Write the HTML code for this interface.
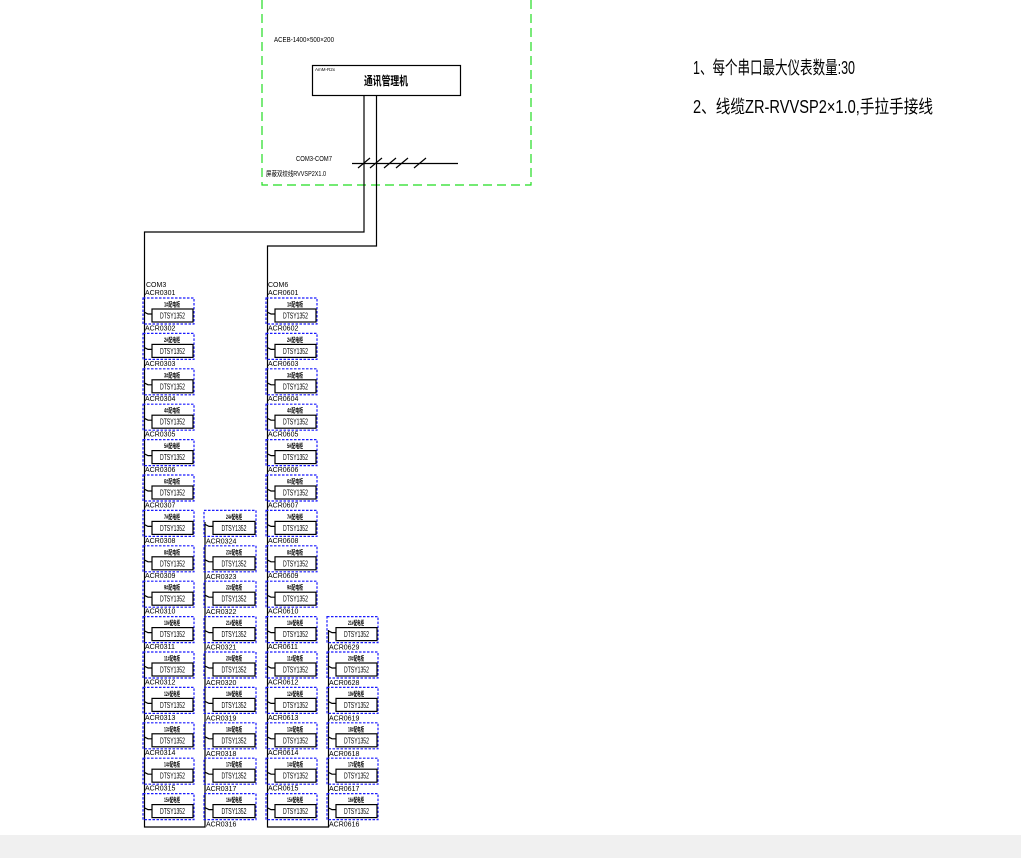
<!DOCTYPE html>
<html><head><meta charset="utf-8"><style>
html,body{margin:0;padding:0;background:#fff;width:1021px;height:858px;overflow:hidden}
svg{display:block}
text{font-family:"Liberation Sans","Noto Sans CJK SC",sans-serif;fill:#000}
.l{font-size:7px}
.t{font-size:6.5px;text-anchor:middle;font-weight:bold}
.d{font-size:8px;text-anchor:middle}
.db{fill:none;stroke:#1a1aff;stroke-width:1.2;stroke-dasharray:2.5,1.5}
.ib{fill:#fff;stroke:#000;stroke-width:1.2}
.w{fill:none;stroke:#000;stroke-width:1.2}
</style></head><body>
<svg width="1021" height="858" viewBox="0 0 1021 858" xmlns="http://www.w3.org/2000/svg">
<rect x="0" y="835" width="1021" height="23" fill="#f0f0f0"/>
<path d="M262,0 V185 H531 V0" fill="none" stroke="#22dd22" stroke-width="1.2" stroke-dasharray="9,5"/>
<text x="274" y="42" style="font-size:7px" textLength="60" lengthAdjust="spacingAndGlyphs">ACEB-1400×500×200</text>
<rect x="312.5" y="65.5" width="148" height="30" class="w"/>
<text x="315" y="71" style="font-size:4.5px">AmM-R2x</text>
<text x="386" y="85" style="font-size:12px;text-anchor:middle;font-weight:bold" textLength="44" lengthAdjust="spacingAndGlyphs">通讯管理机</text>
<text x="296" y="161" style="font-size:7.5px" textLength="36" lengthAdjust="spacingAndGlyphs">COM3-COM7</text>
<text x="266" y="176" style="font-size:7px" textLength="60" lengthAdjust="spacingAndGlyphs">屏蔽双绞线RVVSP2X1.0</text>
<path d="M352,163.5 H458" class="w"/>
<path d="M358,168 L370,158 M370,168 L382,158 M384,168 L396,158 M396,168 L408,158 M414,168 L426,158" class="w"/>
<path d="M364,95 V232 H144.5 V827 H205 V522" class="w"/>
<path d="M376.5,95 V246 H267.5 V827 H328.5 V630" class="w"/>
<text x="146" y="287" class="l">COM3</text>
<text x="268" y="287" class="l">COM6</text>
<text x="693" y="74" style="font-size:18px" textLength="162" lengthAdjust="spacingAndGlyphs">1、每个串口最大仪表数量:30</text>
<text x="693" y="113" style="font-size:18px" textLength="240" lengthAdjust="spacingAndGlyphs">2、线缆ZR-RVVSP2×1.0,手拉手接线</text>

<!-- Column A -->
<g transform="translate(143,298)"><text x="2" y="-3" class="l">ACR0301</text><rect class="db" x="0" y="0" width="51" height="26"/><text x="29" y="8.5" class="t" textLength="16" lengthAdjust="spacingAndGlyphs">1#配电柜</text><rect class="ib" x="9" y="11" width="41" height="13"/><text x="29.5" y="20.5" class="d" textLength="25" lengthAdjust="spacingAndGlyphs">DTSY1352</text><path class="w" d="M1,14 L5,16 H9"/></g>
<g transform="translate(143,333.4)"><text x="2" y="-3" class="l">ACR0302</text><rect class="db" x="0" y="0" width="51" height="26"/><text x="29" y="8.5" class="t" textLength="16" lengthAdjust="spacingAndGlyphs">2#配电柜</text><rect class="ib" x="9" y="11" width="41" height="13"/><text x="29.5" y="20.5" class="d" textLength="25" lengthAdjust="spacingAndGlyphs">DTSY1352</text><path class="w" d="M1,14 L5,16 H9"/></g>
<g transform="translate(143,368.8)"><text x="2" y="-3" class="l">ACR0303</text><rect class="db" x="0" y="0" width="51" height="26"/><text x="29" y="8.5" class="t" textLength="16" lengthAdjust="spacingAndGlyphs">3#配电柜</text><rect class="ib" x="9" y="11" width="41" height="13"/><text x="29.5" y="20.5" class="d" textLength="25" lengthAdjust="spacingAndGlyphs">DTSY1352</text><path class="w" d="M1,14 L5,16 H9"/></g>
<g transform="translate(143,404.2)"><text x="2" y="-3" class="l">ACR0304</text><rect class="db" x="0" y="0" width="51" height="26"/><text x="29" y="8.5" class="t" textLength="16" lengthAdjust="spacingAndGlyphs">4#配电柜</text><rect class="ib" x="9" y="11" width="41" height="13"/><text x="29.5" y="20.5" class="d" textLength="25" lengthAdjust="spacingAndGlyphs">DTSY1352</text><path class="w" d="M1,14 L5,16 H9"/></g>
<g transform="translate(143,439.6)"><text x="2" y="-3" class="l">ACR0305</text><rect class="db" x="0" y="0" width="51" height="26"/><text x="29" y="8.5" class="t" textLength="16" lengthAdjust="spacingAndGlyphs">5#配电柜</text><rect class="ib" x="9" y="11" width="41" height="13"/><text x="29.5" y="20.5" class="d" textLength="25" lengthAdjust="spacingAndGlyphs">DTSY1352</text><path class="w" d="M1,14 L5,16 H9"/></g>
<g transform="translate(143,475)"><text x="2" y="-3" class="l">ACR0306</text><rect class="db" x="0" y="0" width="51" height="26"/><text x="29" y="8.5" class="t" textLength="16" lengthAdjust="spacingAndGlyphs">6#配电柜</text><rect class="ib" x="9" y="11" width="41" height="13"/><text x="29.5" y="20.5" class="d" textLength="25" lengthAdjust="spacingAndGlyphs">DTSY1352</text><path class="w" d="M1,14 L5,16 H9"/></g>
<g transform="translate(143,510.4)"><text x="2" y="-3" class="l">ACR0307</text><rect class="db" x="0" y="0" width="51" height="26"/><text x="29" y="8.5" class="t" textLength="16" lengthAdjust="spacingAndGlyphs">7#配电柜</text><rect class="ib" x="9" y="11" width="41" height="13"/><text x="29.5" y="20.5" class="d" textLength="25" lengthAdjust="spacingAndGlyphs">DTSY1352</text><path class="w" d="M1,14 L5,16 H9"/></g>
<g transform="translate(143,545.8)"><text x="2" y="-3" class="l">ACR0308</text><rect class="db" x="0" y="0" width="51" height="26"/><text x="29" y="8.5" class="t" textLength="16" lengthAdjust="spacingAndGlyphs">8#配电柜</text><rect class="ib" x="9" y="11" width="41" height="13"/><text x="29.5" y="20.5" class="d" textLength="25" lengthAdjust="spacingAndGlyphs">DTSY1352</text><path class="w" d="M1,14 L5,16 H9"/></g>
<g transform="translate(143,581.2)"><text x="2" y="-3" class="l">ACR0309</text><rect class="db" x="0" y="0" width="51" height="26"/><text x="29" y="8.5" class="t" textLength="16" lengthAdjust="spacingAndGlyphs">9#配电柜</text><rect class="ib" x="9" y="11" width="41" height="13"/><text x="29.5" y="20.5" class="d" textLength="25" lengthAdjust="spacingAndGlyphs">DTSY1352</text><path class="w" d="M1,14 L5,16 H9"/></g>
<g transform="translate(143,616.6)"><text x="2" y="-3" class="l">ACR0310</text><rect class="db" x="0" y="0" width="51" height="26"/><text x="29" y="8.5" class="t" textLength="16" lengthAdjust="spacingAndGlyphs">10#配电柜</text><rect class="ib" x="9" y="11" width="41" height="13"/><text x="29.5" y="20.5" class="d" textLength="25" lengthAdjust="spacingAndGlyphs">DTSY1352</text><path class="w" d="M1,14 L5,16 H9"/></g>
<g transform="translate(143,652)"><text x="2" y="-3" class="l">ACR0311</text><rect class="db" x="0" y="0" width="51" height="26"/><text x="29" y="8.5" class="t" textLength="16" lengthAdjust="spacingAndGlyphs">11#配电柜</text><rect class="ib" x="9" y="11" width="41" height="13"/><text x="29.5" y="20.5" class="d" textLength="25" lengthAdjust="spacingAndGlyphs">DTSY1352</text><path class="w" d="M1,14 L5,16 H9"/></g>
<g transform="translate(143,687.4)"><text x="2" y="-3" class="l">ACR0312</text><rect class="db" x="0" y="0" width="51" height="26"/><text x="29" y="8.5" class="t" textLength="16" lengthAdjust="spacingAndGlyphs">12#配电柜</text><rect class="ib" x="9" y="11" width="41" height="13"/><text x="29.5" y="20.5" class="d" textLength="25" lengthAdjust="spacingAndGlyphs">DTSY1352</text><path class="w" d="M1,14 L5,16 H9"/></g>
<g transform="translate(143,722.8)"><text x="2" y="-3" class="l">ACR0313</text><rect class="db" x="0" y="0" width="51" height="26"/><text x="29" y="8.5" class="t" textLength="16" lengthAdjust="spacingAndGlyphs">13#配电柜</text><rect class="ib" x="9" y="11" width="41" height="13"/><text x="29.5" y="20.5" class="d" textLength="25" lengthAdjust="spacingAndGlyphs">DTSY1352</text><path class="w" d="M1,14 L5,16 H9"/></g>
<g transform="translate(143,758.2)"><text x="2" y="-3" class="l">ACR0314</text><rect class="db" x="0" y="0" width="51" height="26"/><text x="29" y="8.5" class="t" textLength="16" lengthAdjust="spacingAndGlyphs">14#配电柜</text><rect class="ib" x="9" y="11" width="41" height="13"/><text x="29.5" y="20.5" class="d" textLength="25" lengthAdjust="spacingAndGlyphs">DTSY1352</text><path class="w" d="M1,14 L5,16 H9"/></g>
<g transform="translate(143,793.6)"><text x="2" y="-3" class="l">ACR0315</text><rect class="db" x="0" y="0" width="51" height="26"/><text x="29" y="8.5" class="t" textLength="16" lengthAdjust="spacingAndGlyphs">15#配电柜</text><rect class="ib" x="9" y="11" width="41" height="13"/><text x="29.5" y="20.5" class="d" textLength="25" lengthAdjust="spacingAndGlyphs">DTSY1352</text><path class="w" d="M1,14 L5,16 H9"/></g>

<!-- Column B -->
<g transform="translate(204,510.4)"><text x="2" y="33" class="l">ACR0324</text><rect class="db" x="0" y="0" width="52" height="26"/><text x="30" y="8.5" class="t" textLength="16" lengthAdjust="spacingAndGlyphs">24#配电柜</text><rect class="ib" x="9" y="11" width="42" height="13"/><text x="30" y="20.5" class="d" textLength="25" lengthAdjust="spacingAndGlyphs">DTSY1352</text><path class="w" d="M1,14 L5,16 H9"/></g>
<g transform="translate(204,545.8)"><text x="2" y="33" class="l">ACR0323</text><rect class="db" x="0" y="0" width="52" height="26"/><text x="30" y="8.5" class="t" textLength="16" lengthAdjust="spacingAndGlyphs">23#配电柜</text><rect class="ib" x="9" y="11" width="42" height="13"/><text x="30" y="20.5" class="d" textLength="25" lengthAdjust="spacingAndGlyphs">DTSY1352</text><path class="w" d="M1,14 L5,16 H9"/></g>
<g transform="translate(204,581.2)"><text x="2" y="33" class="l">ACR0322</text><rect class="db" x="0" y="0" width="52" height="26"/><text x="30" y="8.5" class="t" textLength="16" lengthAdjust="spacingAndGlyphs">22#配电柜</text><rect class="ib" x="9" y="11" width="42" height="13"/><text x="30" y="20.5" class="d" textLength="25" lengthAdjust="spacingAndGlyphs">DTSY1352</text><path class="w" d="M1,14 L5,16 H9"/></g>
<g transform="translate(204,616.6)"><text x="2" y="33" class="l">ACR0321</text><rect class="db" x="0" y="0" width="52" height="26"/><text x="30" y="8.5" class="t" textLength="16" lengthAdjust="spacingAndGlyphs">21#配电柜</text><rect class="ib" x="9" y="11" width="42" height="13"/><text x="30" y="20.5" class="d" textLength="25" lengthAdjust="spacingAndGlyphs">DTSY1352</text><path class="w" d="M1,14 L5,16 H9"/></g>
<g transform="translate(204,652)"><text x="2" y="33" class="l">ACR0320</text><rect class="db" x="0" y="0" width="52" height="26"/><text x="30" y="8.5" class="t" textLength="16" lengthAdjust="spacingAndGlyphs">20#配电柜</text><rect class="ib" x="9" y="11" width="42" height="13"/><text x="30" y="20.5" class="d" textLength="25" lengthAdjust="spacingAndGlyphs">DTSY1352</text><path class="w" d="M1,14 L5,16 H9"/></g>
<g transform="translate(204,687.4)"><text x="2" y="33" class="l">ACR0319</text><rect class="db" x="0" y="0" width="52" height="26"/><text x="30" y="8.5" class="t" textLength="16" lengthAdjust="spacingAndGlyphs">19#配电柜</text><rect class="ib" x="9" y="11" width="42" height="13"/><text x="30" y="20.5" class="d" textLength="25" lengthAdjust="spacingAndGlyphs">DTSY1352</text><path class="w" d="M1,14 L5,16 H9"/></g>
<g transform="translate(204,722.8)"><text x="2" y="33" class="l">ACR0318</text><rect class="db" x="0" y="0" width="52" height="26"/><text x="30" y="8.5" class="t" textLength="16" lengthAdjust="spacingAndGlyphs">18#配电柜</text><rect class="ib" x="9" y="11" width="42" height="13"/><text x="30" y="20.5" class="d" textLength="25" lengthAdjust="spacingAndGlyphs">DTSY1352</text><path class="w" d="M1,14 L5,16 H9"/></g>
<g transform="translate(204,758.2)"><text x="2" y="33" class="l">ACR0317</text><rect class="db" x="0" y="0" width="52" height="26"/><text x="30" y="8.5" class="t" textLength="16" lengthAdjust="spacingAndGlyphs">17#配电柜</text><rect class="ib" x="9" y="11" width="42" height="13"/><text x="30" y="20.5" class="d" textLength="25" lengthAdjust="spacingAndGlyphs">DTSY1352</text><path class="w" d="M1,14 L5,16 H9"/></g>
<g transform="translate(204,793.6)"><text x="2" y="33" class="l">ACR0316</text><rect class="db" x="0" y="0" width="52" height="26"/><text x="30" y="8.5" class="t" textLength="16" lengthAdjust="spacingAndGlyphs">16#配电柜</text><rect class="ib" x="9" y="11" width="42" height="13"/><text x="30" y="20.5" class="d" textLength="25" lengthAdjust="spacingAndGlyphs">DTSY1352</text><path class="w" d="M1,14 L5,16 H9"/></g>

<!-- Column C -->
<g transform="translate(266,298)"><text x="2" y="-3" class="l">ACR0601</text><rect class="db" x="0" y="0" width="51" height="26"/><text x="29" y="8.5" class="t" textLength="16" lengthAdjust="spacingAndGlyphs">1#配电柜</text><rect class="ib" x="9" y="11" width="41" height="13"/><text x="29.5" y="20.5" class="d" textLength="25" lengthAdjust="spacingAndGlyphs">DTSY1352</text><path class="w" d="M1,14 L5,16 H9"/></g>
<g transform="translate(266,333.4)"><text x="2" y="-3" class="l">ACR0602</text><rect class="db" x="0" y="0" width="51" height="26"/><text x="29" y="8.5" class="t" textLength="16" lengthAdjust="spacingAndGlyphs">2#配电柜</text><rect class="ib" x="9" y="11" width="41" height="13"/><text x="29.5" y="20.5" class="d" textLength="25" lengthAdjust="spacingAndGlyphs">DTSY1352</text><path class="w" d="M1,14 L5,16 H9"/></g>
<g transform="translate(266,368.8)"><text x="2" y="-3" class="l">ACR0603</text><rect class="db" x="0" y="0" width="51" height="26"/><text x="29" y="8.5" class="t" textLength="16" lengthAdjust="spacingAndGlyphs">3#配电柜</text><rect class="ib" x="9" y="11" width="41" height="13"/><text x="29.5" y="20.5" class="d" textLength="25" lengthAdjust="spacingAndGlyphs">DTSY1352</text><path class="w" d="M1,14 L5,16 H9"/></g>
<g transform="translate(266,404.2)"><text x="2" y="-3" class="l">ACR0604</text><rect class="db" x="0" y="0" width="51" height="26"/><text x="29" y="8.5" class="t" textLength="16" lengthAdjust="spacingAndGlyphs">4#配电柜</text><rect class="ib" x="9" y="11" width="41" height="13"/><text x="29.5" y="20.5" class="d" textLength="25" lengthAdjust="spacingAndGlyphs">DTSY1352</text><path class="w" d="M1,14 L5,16 H9"/></g>
<g transform="translate(266,439.6)"><text x="2" y="-3" class="l">ACR0605</text><rect class="db" x="0" y="0" width="51" height="26"/><text x="29" y="8.5" class="t" textLength="16" lengthAdjust="spacingAndGlyphs">5#配电柜</text><rect class="ib" x="9" y="11" width="41" height="13"/><text x="29.5" y="20.5" class="d" textLength="25" lengthAdjust="spacingAndGlyphs">DTSY1352</text><path class="w" d="M1,14 L5,16 H9"/></g>
<g transform="translate(266,475)"><text x="2" y="-3" class="l">ACR0606</text><rect class="db" x="0" y="0" width="51" height="26"/><text x="29" y="8.5" class="t" textLength="16" lengthAdjust="spacingAndGlyphs">6#配电柜</text><rect class="ib" x="9" y="11" width="41" height="13"/><text x="29.5" y="20.5" class="d" textLength="25" lengthAdjust="spacingAndGlyphs">DTSY1352</text><path class="w" d="M1,14 L5,16 H9"/></g>
<g transform="translate(266,510.4)"><text x="2" y="-3" class="l">ACR0607</text><rect class="db" x="0" y="0" width="51" height="26"/><text x="29" y="8.5" class="t" textLength="16" lengthAdjust="spacingAndGlyphs">7#配电柜</text><rect class="ib" x="9" y="11" width="41" height="13"/><text x="29.5" y="20.5" class="d" textLength="25" lengthAdjust="spacingAndGlyphs">DTSY1352</text><path class="w" d="M1,14 L5,16 H9"/></g>
<g transform="translate(266,545.8)"><text x="2" y="-3" class="l">ACR0608</text><rect class="db" x="0" y="0" width="51" height="26"/><text x="29" y="8.5" class="t" textLength="16" lengthAdjust="spacingAndGlyphs">8#配电柜</text><rect class="ib" x="9" y="11" width="41" height="13"/><text x="29.5" y="20.5" class="d" textLength="25" lengthAdjust="spacingAndGlyphs">DTSY1352</text><path class="w" d="M1,14 L5,16 H9"/></g>
<g transform="translate(266,581.2)"><text x="2" y="-3" class="l">ACR0609</text><rect class="db" x="0" y="0" width="51" height="26"/><text x="29" y="8.5" class="t" textLength="16" lengthAdjust="spacingAndGlyphs">9#配电柜</text><rect class="ib" x="9" y="11" width="41" height="13"/><text x="29.5" y="20.5" class="d" textLength="25" lengthAdjust="spacingAndGlyphs">DTSY1352</text><path class="w" d="M1,14 L5,16 H9"/></g>
<g transform="translate(266,616.6)"><text x="2" y="-3" class="l">ACR0610</text><rect class="db" x="0" y="0" width="51" height="26"/><text x="29" y="8.5" class="t" textLength="16" lengthAdjust="spacingAndGlyphs">10#配电柜</text><rect class="ib" x="9" y="11" width="41" height="13"/><text x="29.5" y="20.5" class="d" textLength="25" lengthAdjust="spacingAndGlyphs">DTSY1352</text><path class="w" d="M1,14 L5,16 H9"/></g>
<g transform="translate(266,652)"><text x="2" y="-3" class="l">ACR0611</text><rect class="db" x="0" y="0" width="51" height="26"/><text x="29" y="8.5" class="t" textLength="16" lengthAdjust="spacingAndGlyphs">11#配电柜</text><rect class="ib" x="9" y="11" width="41" height="13"/><text x="29.5" y="20.5" class="d" textLength="25" lengthAdjust="spacingAndGlyphs">DTSY1352</text><path class="w" d="M1,14 L5,16 H9"/></g>
<g transform="translate(266,687.4)"><text x="2" y="-3" class="l">ACR0612</text><rect class="db" x="0" y="0" width="51" height="26"/><text x="29" y="8.5" class="t" textLength="16" lengthAdjust="spacingAndGlyphs">12#配电柜</text><rect class="ib" x="9" y="11" width="41" height="13"/><text x="29.5" y="20.5" class="d" textLength="25" lengthAdjust="spacingAndGlyphs">DTSY1352</text><path class="w" d="M1,14 L5,16 H9"/></g>
<g transform="translate(266,722.8)"><text x="2" y="-3" class="l">ACR0613</text><rect class="db" x="0" y="0" width="51" height="26"/><text x="29" y="8.5" class="t" textLength="16" lengthAdjust="spacingAndGlyphs">13#配电柜</text><rect class="ib" x="9" y="11" width="41" height="13"/><text x="29.5" y="20.5" class="d" textLength="25" lengthAdjust="spacingAndGlyphs">DTSY1352</text><path class="w" d="M1,14 L5,16 H9"/></g>
<g transform="translate(266,758.2)"><text x="2" y="-3" class="l">ACR0614</text><rect class="db" x="0" y="0" width="51" height="26"/><text x="29" y="8.5" class="t" textLength="16" lengthAdjust="spacingAndGlyphs">14#配电柜</text><rect class="ib" x="9" y="11" width="41" height="13"/><text x="29.5" y="20.5" class="d" textLength="25" lengthAdjust="spacingAndGlyphs">DTSY1352</text><path class="w" d="M1,14 L5,16 H9"/></g>
<g transform="translate(266,793.6)"><text x="2" y="-3" class="l">ACR0615</text><rect class="db" x="0" y="0" width="51" height="26"/><text x="29" y="8.5" class="t" textLength="16" lengthAdjust="spacingAndGlyphs">15#配电柜</text><rect class="ib" x="9" y="11" width="41" height="13"/><text x="29.5" y="20.5" class="d" textLength="25" lengthAdjust="spacingAndGlyphs">DTSY1352</text><path class="w" d="M1,14 L5,16 H9"/></g>

<!-- Column D -->
<g transform="translate(327,616.6)"><text x="2" y="33" class="l">ACR0629</text><rect class="db" x="0" y="0" width="51" height="26"/><text x="29" y="8.5" class="t" textLength="16" lengthAdjust="spacingAndGlyphs">21#配电柜</text><rect class="ib" x="9" y="11" width="41" height="13"/><text x="29.5" y="20.5" class="d" textLength="25" lengthAdjust="spacingAndGlyphs">DTSY1352</text><path class="w" d="M1,14 L5,16 H9"/></g>
<g transform="translate(327,652)"><text x="2" y="33" class="l">ACR0628</text><rect class="db" x="0" y="0" width="51" height="26"/><text x="29" y="8.5" class="t" textLength="16" lengthAdjust="spacingAndGlyphs">20#配电柜</text><rect class="ib" x="9" y="11" width="41" height="13"/><text x="29.5" y="20.5" class="d" textLength="25" lengthAdjust="spacingAndGlyphs">DTSY1352</text><path class="w" d="M1,14 L5,16 H9"/></g>
<g transform="translate(327,687.4)"><text x="2" y="33" class="l">ACR0619</text><rect class="db" x="0" y="0" width="51" height="26"/><text x="29" y="8.5" class="t" textLength="16" lengthAdjust="spacingAndGlyphs">19#配电柜</text><rect class="ib" x="9" y="11" width="41" height="13"/><text x="29.5" y="20.5" class="d" textLength="25" lengthAdjust="spacingAndGlyphs">DTSY1352</text><path class="w" d="M1,14 L5,16 H9"/></g>
<g transform="translate(327,722.8)"><text x="2" y="33" class="l">ACR0618</text><rect class="db" x="0" y="0" width="51" height="26"/><text x="29" y="8.5" class="t" textLength="16" lengthAdjust="spacingAndGlyphs">18#配电柜</text><rect class="ib" x="9" y="11" width="41" height="13"/><text x="29.5" y="20.5" class="d" textLength="25" lengthAdjust="spacingAndGlyphs">DTSY1352</text><path class="w" d="M1,14 L5,16 H9"/></g>
<g transform="translate(327,758.2)"><text x="2" y="33" class="l">ACR0617</text><rect class="db" x="0" y="0" width="51" height="26"/><text x="29" y="8.5" class="t" textLength="16" lengthAdjust="spacingAndGlyphs">17#配电柜</text><rect class="ib" x="9" y="11" width="41" height="13"/><text x="29.5" y="20.5" class="d" textLength="25" lengthAdjust="spacingAndGlyphs">DTSY1352</text><path class="w" d="M1,14 L5,16 H9"/></g>
<g transform="translate(327,793.6)"><text x="2" y="33" class="l">ACR0616</text><rect class="db" x="0" y="0" width="51" height="26"/><text x="29" y="8.5" class="t" textLength="16" lengthAdjust="spacingAndGlyphs">16#配电柜</text><rect class="ib" x="9" y="11" width="41" height="13"/><text x="29.5" y="20.5" class="d" textLength="25" lengthAdjust="spacingAndGlyphs">DTSY1352</text><path class="w" d="M1,14 L5,16 H9"/></g>
</svg>
</body></html>
